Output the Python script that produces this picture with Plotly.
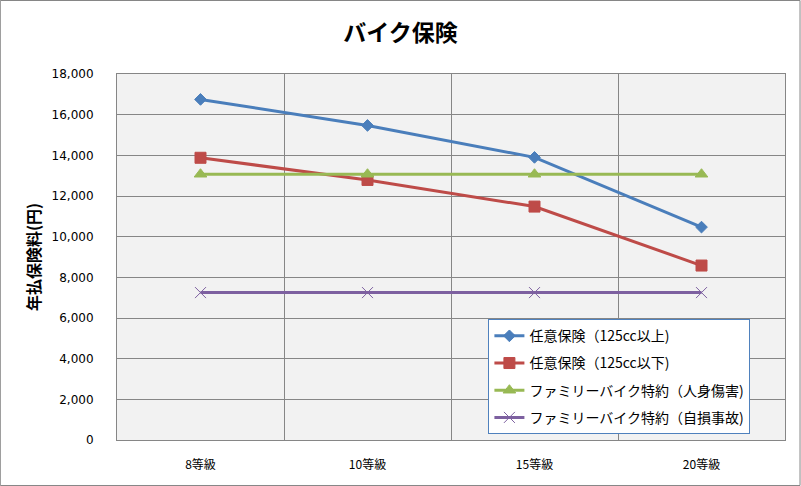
import plotly.graph_objects as go

categories = ["8等級", "10等級", "15等級", "20等級"]
series_names = ["任意保険（125cc以上)", "任意保険（125cc以下)", "ファミリーバイク特約（人身傷害)", "ファミリーバイク特約（自損事故)"]
s1 = [16750, 15470, 13900, 10470]
s2 = [13880, 12790, 11480, 8580]
s3 = [13070, 13070, 13070, 13070]
s4 = [7250, 7250, 7250, 7250]
y_ticks = [0, 2000, 4000, 6000, 8000, 10000, 12000, 14000, 16000, 18000]
y_ticktext = ["0", "2,000", "4,000", "6,000", "8,000", "10,000", "12,000", "14,000", "16,000", "18,000"]

colors = ["#4a7ebb", "#be4b48", "#98b954", "#7d60a0"]
symbols = ["diamond", "square", "triangle-up", "x-thin"]
sizes = [9, 11, 11, 11]

xs = list(range(len(categories)))
fig = go.Figure()
for i, (name, vals, c, sym, sz) in enumerate(zip(series_names, [s1, s2, s3, s4], colors, symbols, sizes)):
    fig.add_trace(go.Scatter(
        x=xs, y=vals, name=name, mode="lines+markers", legendgroup=f"g{i}",
        line=dict(color=c, width=3),
        marker=dict(symbol=sym, size=sz, color=c, line=dict(color=c, width=1)),
    ))

font_jp = "Noto Sans CJK JP"
fig.update_layout(
    width=801, height=486,
    paper_bgcolor="white", plot_bgcolor="#f2f2f2",
    margin=dict(l=117, r=16, t=74, b=46),
    title=dict(text="<b>バイク保険</b>", x=0.5, xanchor="center", y=0.932, yanchor="middle",
               font=dict(family=font_jp, size=23, color="black")),
    showlegend=True,
    legend=dict(x=0.556, y=0.33, xanchor="left", yanchor="top",
                bordercolor="#4f81bd", borderwidth=1, bgcolor="white",
                font=dict(family=font_jp, size=14, color="black"),
                tracegroupgap=6, itemwidth=30),
    xaxis=dict(range=[-0.5, 3.5], tickmode="array", tickvals=xs, ticktext=categories,
               showgrid=False, zeroline=False, showline=True, linecolor="#868686", mirror=True,
               ticks="", ticklabelstandoff=14, tickfont=dict(family=font_jp, size=12, color="black"),
               minor=dict(showgrid=True, tick0=0.5, dtick=1, gridcolor="#868686", gridwidth=1, ticks="")),
    yaxis=dict(range=[0, 18000], tickmode="array", tickvals=y_ticks, ticktext=y_ticktext,
               showgrid=True, gridcolor="#868686", gridwidth=1, zeroline=False,
               showline=True, linecolor="#868686", mirror=True, ticks="", ticklabelstandoff=20,
               tickfont=dict(family="DejaVu Sans", size=12, color="black"),
               title=dict(text="<b>年払保険料(円)</b>", font=dict(family=font_jp, size=16, color="black"), standoff=6)),
    shapes=[dict(type="rect", xref="paper", yref="paper",
                 x0=-0.1747, x1=1.0225, y0=-0.1243, y1=1.2008,
                 line=dict(color="#868686", width=1), fillcolor="rgba(0,0,0,0)", layer="below")],
)

fig.write_html("out.html", config={"displayModeBar": False},
               post_script="document.body.style.margin='0px';document.body.style.padding='0px';")
